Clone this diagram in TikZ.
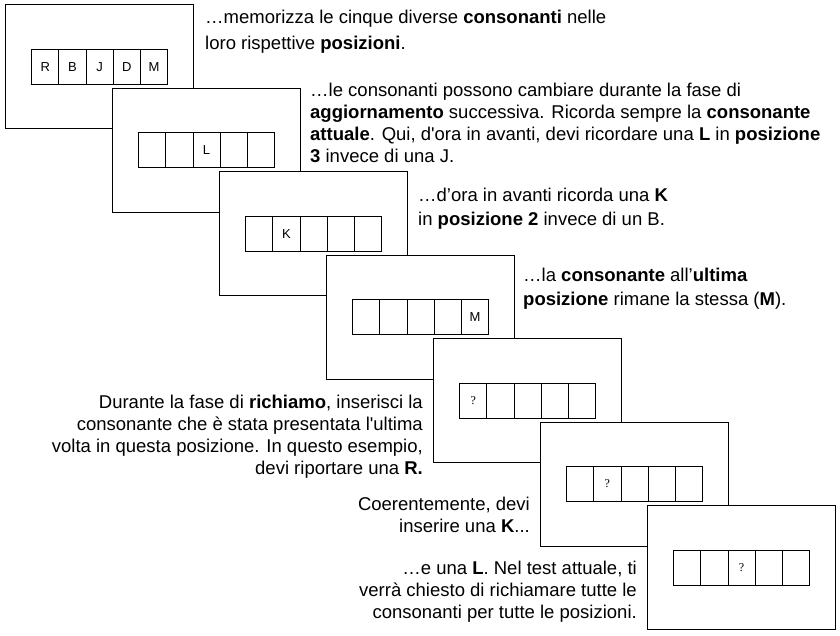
\documentclass[tikz,border=0pt]{standalone}
\usepackage{fontspec}
\setmainfont{Liberation Sans}
\newfontfamily\qfont{Liberation Serif}
\begin{document}
\begin{tikzpicture}[x=1pt,y=-1pt,
  slide/.style={draw=black, fill=white, line width=1.2pt, minimum width=188pt, minimum height=124pt, inner sep=0pt, anchor=north west},
  cell/.style={draw=black, line width=0.8pt, minimum width=27.2pt, minimum height=35pt, inner sep=0pt, font=\fontsize{13}{14}\selectfont},
  txtl/.style={inner sep=0pt, anchor=north west, align=left},
  txtr/.style={inner sep=0pt, anchor=north east, align=right},
  fs/.style={font=\fontsize{18.5}{#1}\selectfont}
]
\useasboundingbox (0,0) rectangle (840,635);
\foreach \i/\a/\b/\c/\d/\e in {0/R/B/J/D/M, 1/{}/{}/L/{}/{}, 2/{}/K/{}/{}/{}, 3/{}/{}/{}/{}/M, 4/{\qfont\fontsize{12}{13}\selectfont ?}/{}/{}/{}/{}, 5/{}/{\qfont\fontsize{12}{13}\selectfont ?}/{}/{}/{}, 6/{}/{}/{\qfont\fontsize{12}{13}\selectfont ?}/{}/{}}{
  \node[slide] (s\i) at (5+107*\i, 4+83.5*\i) {};
  \node[cell] (c\i a) at ([xshift=-54.4pt]s\i.center) {\a};
  \node[cell] (c\i b) at ([xshift=-27.2pt]s\i.center) {\b};
  \node[cell] (c\i c) at (s\i.center) {\c};
  \node[cell] (c\i d) at ([xshift=27.2pt]s\i.center) {\d};
  \node[cell] (c\i e) at ([xshift=54.4pt]s\i.center) {\e};
}
\node[txtl, fs=26] (t1) at (205,10) {…memorizza le cinque diverse \textbf{consonanti} nelle\\loro rispettive \textbf{posizioni}.};
\node[txtl, fs=22] (t2) at (310,83) {…le consonanti possono cambiare durante la fase di\\\textbf{aggiornamento} successiva. Ricorda sempre la \textbf{consonante}\\\textbf{attuale}. Qui, d\textquotesingle ora in avanti,  devi ricordare una \textbf{L} in \textbf{posizione}\\\textbf{3} invece di una J.};
\node[txtl, fs=24] (t3) at (418,188) {…d’ora in avanti ricorda una \textbf{K}\\in \textbf{posizione 2} invece di un B.};
\node[txtl, fs=24] (t4) at (523,268) {…la \textbf{consonante} all’\textbf{ultima}\\\textbf{posizione} rimane la stessa (\textbf{M}).};
\node[txtr, fs=22] (t5) at (423,395) {Durante la fase di \textbf{richiamo}, inserisci la\\consonante che è stata presentata l\textquotesingle ultima\\volta in questa posizione. In questo esempio,\\devi riportare una \textbf{R.}};
\node[txtr, fs=22] (t6) at (530,497) {Coerentemente, devi\\inserire una \textbf{K}...};
\node[txtr, fs=22] (t7) at (637,561) {…e una \textbf{L}. Nel test attuale, ti\\verrà chiesto di richiamare tutte le\\consonanti per tutte le posizioni.};
\end{tikzpicture}
\end{document}
